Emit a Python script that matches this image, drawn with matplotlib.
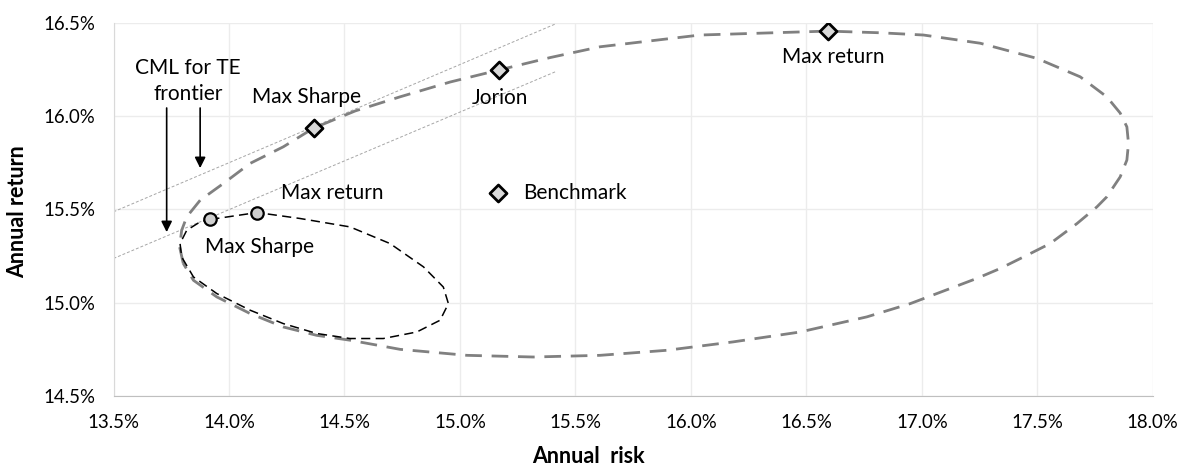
import matplotlib.pyplot as plt
from matplotlib.ticker import FuncFormatter

plt.rcParams['font.family'] = ['Lato', 'DejaVu Sans']

# tracking-error frontier (annual risk %, annual return %)
te_risk = [13.802, 13.786, 13.795, 13.817, 13.875, 13.976, 14.091, 14.235, 14.366,
           14.546, 14.741, 14.957, 15.167, 15.390, 15.607, 16.040, 16.593, 16.820,
           17.007, 17.253, 17.498, 17.686, 17.801, 17.859, 17.888, 17.895, 17.888,
           17.859, 17.801, 17.758, 17.672, 17.556, 17.455, 17.339, 17.238, 17.123,
           16.950, 16.762, 16.473, 16.183, 15.896, 15.607, 15.317, 15.030, 14.741,
           14.524, 14.380, 14.235, 14.091, 13.947, 13.846, 13.802]
te_ret = [15.210, 15.299, 15.388, 15.460, 15.549, 15.639, 15.746, 15.835, 15.935,
          16.027, 16.103, 16.182, 16.246, 16.313, 16.371, 16.434, 16.455, 16.446,
          16.434, 16.390, 16.309, 16.210, 16.103, 16.016, 15.942, 15.853, 15.764,
          15.674, 15.567, 15.513, 15.424, 15.317, 15.254, 15.183, 15.130, 15.076,
          14.995, 14.924, 14.843, 14.790, 14.745, 14.718, 14.709, 14.718, 14.750,
          14.799, 14.825, 14.870, 14.942, 15.031, 15.120, 15.210]

# constrained frontier
cf_risk = [13.919, 14.122, 14.308, 14.524, 14.697, 14.842, 14.928, 14.950, 14.914,
           14.813, 14.668, 14.524, 14.380, 14.235, 14.091, 13.947, 13.846, 13.795,
           13.788, 13.817, 13.875, 13.919]
cf_ret = [15.446, 15.483, 15.451, 15.406, 15.317, 15.192, 15.084, 14.995, 14.906,
          14.843, 14.808, 14.808, 14.835, 14.888, 14.960, 15.049, 15.138, 15.245,
          15.317, 15.388, 15.433, 15.446]

# capital market lines (end points)
cml_risk = [13.5, 15.413]
cml_upper = [15.487, 16.493]
cml_lower = [15.237, 16.237]

# named portfolios
te_names = ['Max Sharpe', 'Jorion', 'Max return']
te_pt_risk = [14.366, 15.167, 16.593]
te_pt_ret = [15.935, 16.246, 16.455]
bench_risk, bench_ret = 15.166, 15.589
cf_names = ['Max Sharpe', 'Max return']
cf_pt_risk = [13.919, 14.122]
cf_pt_ret = [15.446, 15.483]

fig = plt.figure(figsize=(11.89, 4.68), dpi=100)
ax = fig.add_axes([0.0955, 0.1538, 0.874, 0.7977])

ax.plot(cml_risk, cml_upper, color='#a6a6a6', lw=0.7, ls=(0, (3, 2)), zorder=1)
ax.plot(cml_risk, cml_lower, color='#a6a6a6', lw=0.7, ls=(0, (3, 2)), zorder=1)
ax.plot(te_risk, te_ret, color='#808080', lw=2.0, ls=(0, (6, 3.5)), zorder=2)
ax.plot(cf_risk, cf_ret, color='black', lw=1.1, ls=(0, (6, 3.5)), zorder=3)

ax.scatter(te_pt_risk + [bench_risk], te_pt_ret + [bench_ret], marker='D', s=75,
           facecolor='#d9d9d9', edgecolor='black', linewidth=2, zorder=5)
ax.scatter(cf_pt_risk, cf_pt_ret, marker='o', s=80,
           facecolor='#d0d0d0', edgecolor='black', linewidth=1.6, zorder=5)

fs = 15
ax.text(14.337, 16.103, te_names[0], ha='center', va='center', fontsize=fs)
ax.text(15.174, 16.095, te_names[1], ha='center', va='center', fontsize=fs)
ax.text(16.617, 16.314, te_names[2], ha='center', va='center', fontsize=fs)
ax.text(15.275, 15.587, 'Benchmark', ha='left', va='center', fontsize=fs)
ax.text(14.134, 15.299, cf_names[0], ha='center', va='center', fontsize=fs)
ax.text(14.445, 15.585, cf_names[1], ha='center', va='center', fontsize=fs)
ax.text(13.823, 16.187, 'CML for TE\nfrontier', ha='center', va='center',
        fontsize=fs, linespacing=1.35)

arrow = dict(arrowstyle='-|>', color='black', lw=1.2, mutation_scale=16,
             shrinkA=0, shrinkB=0)
ax.annotate('', xy=(13.730, 15.378), xytext=(13.730, 16.043), arrowprops=arrow)
ax.annotate('', xy=(13.875, 15.721), xytext=(13.875, 16.043), arrowprops=arrow)

ax.set_xlim(13.5, 18.0)
ax.set_ylim(14.5, 16.5)
ax.set_xticks([13.5 + 0.5 * i for i in range(10)])
ax.set_yticks([14.5, 15.0, 15.5, 16.0, 16.5])
pct = FuncFormatter(lambda v, p: f'{v:.1f}%')
ax.xaxis.set_major_formatter(pct)
ax.yaxis.set_major_formatter(pct)
ax.tick_params(length=0, labelsize=13.4)
ax.tick_params(axis='x', pad=13)
ax.tick_params(axis='y', pad=13)
ax.grid(True, color='#ececec', lw=1)
ax.set_axisbelow(True)
for s in ['top', 'right']:
    ax.spines[s].set_visible(False)
ax.spines['left'].set_color('#d9d9d9')
ax.spines['bottom'].set_color('#bfbfbf')

fig.text(0.4945, 0.025, 'Annual  risk', ha='center', va='center',
         fontsize=15.5, fontweight='bold')
fig.text(0.0145, 0.547, 'Annual return', ha='center', va='center',
         fontsize=15.5, fontweight='bold', rotation=90)

fig.savefig('out.png', dpi=100)
